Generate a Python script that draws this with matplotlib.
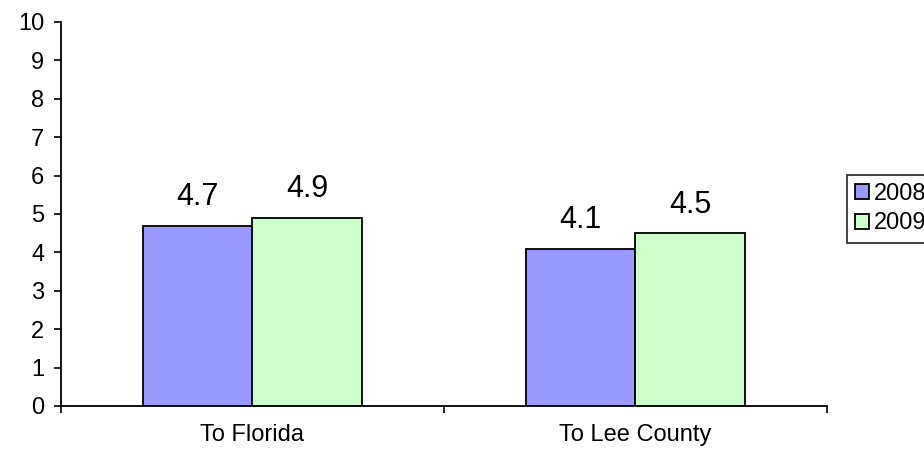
import numpy as np
import matplotlib
matplotlib.use("Agg")
from matplotlib import pyplot as plt

plt.rcParams['font.family'] = ['Liberation Sans', 'DejaVu Sans']

categories = ["To Florida", "To Lee County"]
series_names = ["2008", "2009"]
values_2008 = [4.7, 4.1]
values_2009 = [4.9, 4.5]
colors = ["#9999FF", "#CCFFCC"]

fig = plt.figure(figsize=(9.24, 4.53), dpi=100)
ax = fig.add_axes([61/924, 1-406/453, (827-61)/924, (406-22)/453])

x = np.arange(len(categories))
w = 0.287
for k, (vals, name, c) in enumerate(zip([values_2008, values_2009], series_names, colors)):
    pos = x + (k - 0.5) * w
    bars = ax.bar(pos, vals, width=w, color=c, edgecolor="black", linewidth=1.3, label=name)
    for p, v in zip(pos, vals):
        ax.text(p, v + 0.35, str(v), ha="center", va="bottom", fontsize=22)

ax.set_xlim(-0.5, len(categories) - 0.5)
ax.set_ylim(0, 10)
ax.set_yticks(range(0, 11))
ax.set_xticks(x)
ax.set_xticklabels(categories, fontsize=17)
ax.set_xticks(np.arange(-0.5, len(categories), 1.0), minor=True)
ax.tick_params(axis="x", which="major", length=0, pad=13)
ax.tick_params(axis="x", which="minor", length=5, width=1.2, direction="out")
ax.tick_params(axis="y", length=5, width=1.2, labelsize=17, pad=7)
for s in ["top", "right"]:
    ax.spines[s].set_visible(False)
for s in ["left", "bottom"]:
    ax.spines[s].set_linewidth(1.3)

leg = fig.legend(loc="upper left", bbox_to_anchor=(847/924, 1-175/453), frameon=True,
                 fancybox=False, edgecolor="black", fontsize=17, handlelength=0.6,
                 handleheight=0.6, handletextpad=0.2, borderpad=0.35, labelspacing=0.3,
                 borderaxespad=0)
leg.get_frame().set_linewidth(1.3)

fig.savefig("out.png", dpi=100)
